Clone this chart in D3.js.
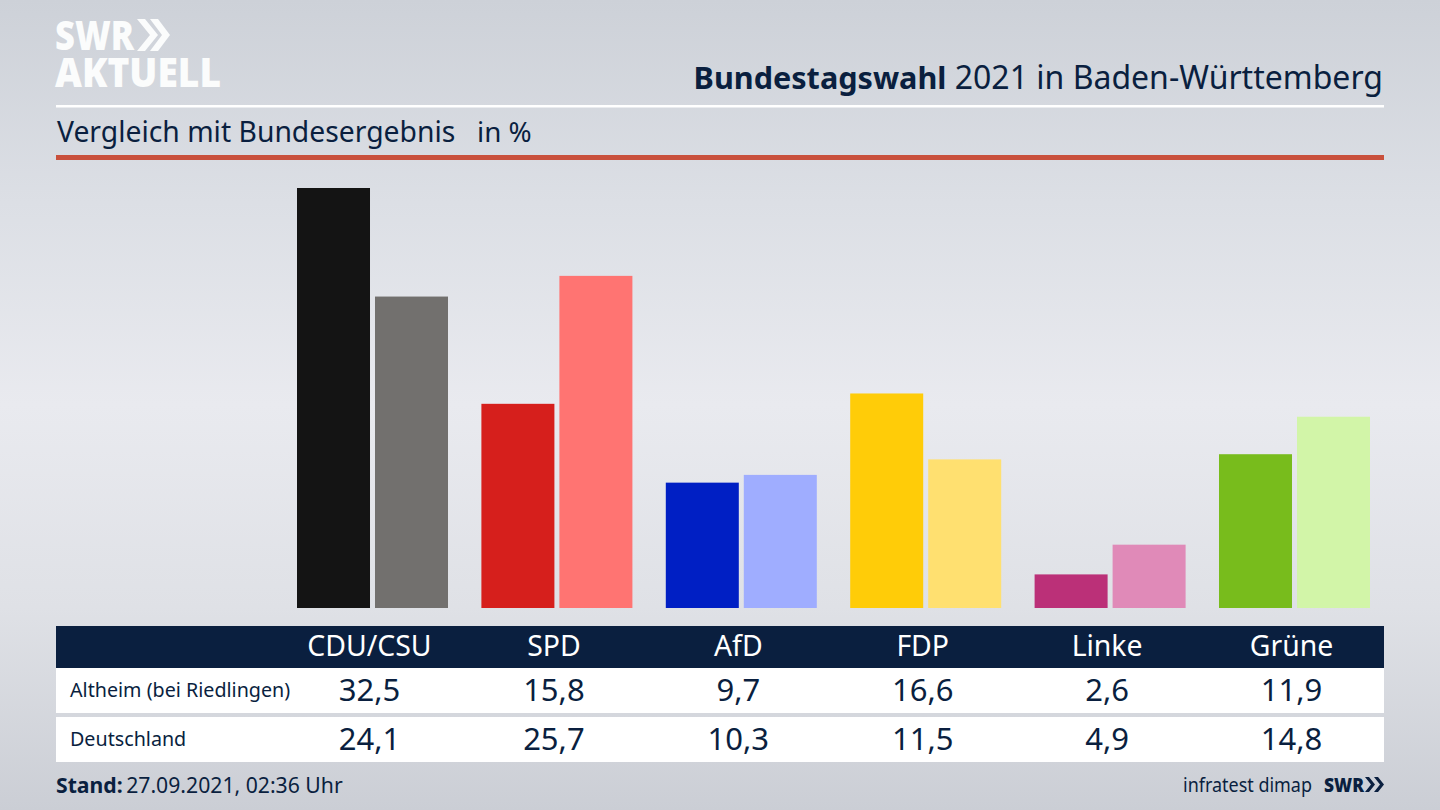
<!DOCTYPE html>
<html><head><meta charset="utf-8">
<script src="https://cdn.jsdelivr.net/npm/d3@7/dist/d3.min.js"></script>
<style>html,body{margin:0;padding:0;width:1440px;height:810px;overflow:hidden}svg{display:block}text{font-family:"Noto Sans",sans-serif;fill:#0a1f3f}</style>
</head><body><svg id="c" width="1440" height="810"></svg>
<script>
const parties=["CDU/CSU","SPD","AfD","FDP","Linke","Grüne"];
const seriesNames=["Altheim (bei Riedlingen)","Deutschland"];
const altheim=[32.5,15.8,9.7,16.6,2.6,11.9];
const deutschland=[24.1,25.7,10.3,11.5,4.9,14.8];
const colorsA=["#141414","#d61f1c","#001fc4","#ffcc08","#bb3078","#78bc1c"];
const colorsB=["#72706e","#ff7472","#9fadff","#ffe070","#e08ab8","#d2f5a8"];
const fmt=v=>v.toFixed(1).replace(".",",");

const svg=d3.select("#c");
const defs=svg.append("defs");
const g=defs.append("linearGradient").attr("id","bg").attr("x1",0).attr("x2",0).attr("y1",0).attr("y2",1);
[[0,"#cdd1d8"],[.25,"#dcdfe5"],[.5,"#e9eaef"],[.75,"#dfe1e6"],[1,"#cbced5"]].forEach(s=>g.append("stop").attr("offset",s[0]).attr("stop-color",s[1]));
svg.append("rect").attr("width",1440).attr("height",810).attr("fill","url(#bg)");

// logo
const white="#fbfcfc";
const t=(x,y,s,size,o={})=>{const e=svg.append("text").attr("x",x).attr("y",y).attr("font-size",size).text(s);
 Object.entries(o).forEach(([k,v])=>e.style(k,v));return e;};
t(55,50,"SWR",40,{fill:white,"font-weight":800,"font-family":"'Open Sans',sans-serif"}).attr("textLength",79).attr("lengthAdjust","spacingAndGlyphs");
t(55,87,"AKTUELL",40,{fill:white,"font-weight":800,"font-family":"'Open Sans',sans-serif"}).attr("textLength",166).attr("lengthAdjust","spacingAndGlyphs");
const chev=(x,y,h,w,th,fill)=>svg.append("path").attr("fill",fill).attr("d",`M${x} ${y}L${x+th} ${y}L${x+th+w} ${y+h/2}L${x+th} ${y+h}L${x} ${y+h}L${x+w} ${y+h/2}Z`);
chev(137,19,32,13,8,white);chev(150,19,32,12,8,white);

// header
const title=svg.append("text").attr("x",1383).attr("y",89).attr("text-anchor","end").attr("font-size",32);
title.append("tspan").attr("font-weight",700).attr("font-size",30.6).text("Bundestagswahl");
title.append("tspan").text(" 2021 in Baden-Württemberg");
svg.append("rect").attr("x",56).attr("y",105).attr("width",1328).attr("height",2.5).attr("fill","#fff");
t(57,142,"Vergleich mit Bundesergebnis",28.3);
t(477,142,"in %",27.8);
svg.append("rect").attr("x",56).attr("y",155).attr("width",1328).attr("height",5).attr("fill","#c9503c");

// scales
const x=d3.scalePoint().domain(parties).range([369.5,1291.5]);
const inner=d3.scaleBand().domain([0,1]).range([-72.5,78.5]).paddingInner(0.064);
const y=d3.scaleLinear().domain([0,32.5]).range([608,188]);

parties.forEach((p,i)=>{
 [[altheim,colorsA],[deutschland,colorsB]].forEach((s,k)=>{
  svg.append("rect").attr("x",x(p)+inner(k)).attr("y",y(s[0][i])).attr("width",inner.bandwidth()).attr("height",y(0)-y(s[0][i])).attr("fill",s[1][i]);
 });
});

// table
svg.append("rect").attr("x",56).attr("y",626).attr("width",1328).attr("height",42).attr("fill","#0a1f3f");
svg.append("rect").attr("x",56).attr("y",668).attr("width",1328).attr("height",45).attr("fill","#fff");
svg.append("rect").attr("x",56).attr("y",717).attr("width",1328).attr("height",45).attr("fill","#fff");
parties.forEach((p,i)=>{
 t(x(p),656,p,28.4,{fill:"#fff","text-anchor":"middle"});
 t(x(p),701,fmt(altheim[i]),31,{"text-anchor":"middle"});
 t(x(p),750,fmt(deutschland[i]),31,{"text-anchor":"middle"});
});
t(70,697,seriesNames[0],19.7);
t(70,746,seriesNames[1],19.7);

// footer
const st=svg.append("text").attr("x",56).attr("y",793).attr("font-size",21.2);
st.append("tspan").attr("font-weight",700).text("Stand:");
st.append("tspan").attr("dx",-2).text(" 27.09.2021, 02:36 Uhr");
t(1183,792,"infratest dimap",20,{}).attr("textLength",129).attr("lengthAdjust","spacingAndGlyphs");
t(1324,792,"SWR",20,{"font-weight":800,"font-family":"'Open Sans',sans-serif"}).attr("textLength",40).attr("lengthAdjust","spacingAndGlyphs");
chev(1365,777,15,6,4,"#0a1f3f");chev(1374,777,15,6,4,"#0a1f3f");
</script></body></html>
